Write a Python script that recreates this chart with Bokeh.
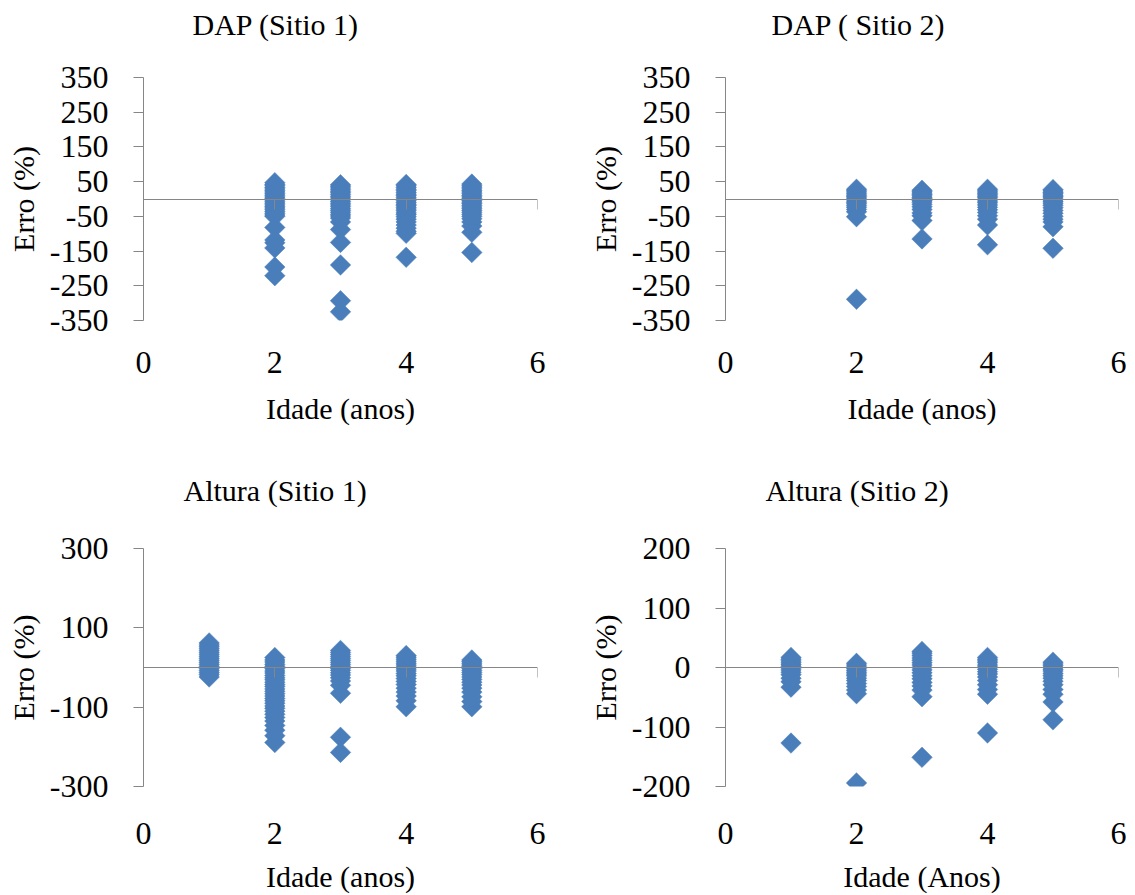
import numpy as np
from bokeh.plotting import figure
from bokeh.models import FixedTicker, LinearAxis, Range1d, ColumnDataSource
from bokeh.layouts import column, row
from bokeh.embed import file_html
from bokeh.resources import INLINE

# ---------------- data ----------------
x_ticks = [0, 2, 4, 6]

# DAP (Sitio 1): Erro (%) by Idade (anos)
dap_s1_age2 = [47, 42, 38, 33, 29, 24, 20, 15, 11, 6, 2, -3, -8, -12, -17, -22, -26,
               -31, -36, -41, -46, -50, -82, -118, -126, -141, -196, -221]
dap_s1_age3 = [41, 37, 32, 27, 22, 18, 13, 8, 3, -2, -7, -12, -17, -22, -28, -33, -38,
               -44, -49, -55, -66, -88, -125, -190, -293, -325]
dap_s1_age4 = [42, 38, 33, 28, 24, 19, 14, 10, 5, 0, -5, -10, -15, -19, -24, -29, -34,
               -40, -45, -51, -58, -66, -75, -84, -93, -99, -168]
dap_s1_age5 = [43, 38, 34, 29, 24, 20, 15, 10, 6, 1, -4, -9, -13, -18, -23, -28, -33,
               -38, -44, -50, -57, -66, -78, -96, -154]

# DAP (Sitio 2)
dap_s2_age2 = [28, 24, 20, 15, 11, 7, 3, -1, -6, -10, -14, -19, -24, -30, -37, -51, -289]
dap_s2_age3 = [25, 21, 17, 13, 9, 5, 1, -4, -9, -15, -22, -30, -40, -48, -62, -115]
dap_s2_age4 = [28, 24, 20, 16, 12, 8, 4, -1, -6, -11, -17, -24, -31, -39, -48, -58, -75, -132]
dap_s2_age5 = [27, 23, 19, 15, 11, 7, 3, -2, -7, -12, -18, -25, -33, -41, -50, -58, -66, -80, -142]

# Altura (Sitio 1)
alt_s1_age1 = [62, 57, 52, 47, 42, 37, 32, 27, 22, 17, 12, 7, 2, -3, -8, -13, -18, -24]
alt_s1_age2 = [25, 19, 14, 8, 3, -3, -9, -14, -20, -26, -31, -37, -43, -48, -54, -60, -66,
               -72, -78, -84, -90, -97, -103, -110, -118, -126, -135, -146, -158, -172, -189]
alt_s1_age3 = [43, 38, 33, 28, 23, 18, 13, 8, 3, -2, -7, -13, -19, -26, -34, -45, -65, -176, -214]
alt_s1_age4 = [30, 26, 21, 16, 11, 6, 1, -4, -9, -15, -21, -28, -35, -43, -52, -62, -72, -84, -99]
alt_s1_age5 = [19, 15, 11, 6, 2, -3, -8, -13, -18, -24, -30, -37, -44, -52, -62, -74, -86, -99]

# Altura (Sitio 2)
alt_s2_age1 = [17, 14, 11, 8, 5, 2, -1, -4, -8, -12, -18, -24, -33, -127]
alt_s2_age2 = [7, 4, 1, -2, -5, -8, -11, -14, -18, -22, -27, -32, -38, -44, -194]
alt_s2_age3 = [27, 24, 20, 16, 12, 8, 4, 0, -4, -9, -14, -19, -25, -31, -38, -49, -151]
alt_s2_age4 = [17, 14, 11, 8, 4, 1, -3, -7, -11, -16, -22, -29, -37, -45, -110]
alt_s2_age5 = [9, 6, 3, 0, -3, -6, -10, -14, -18, -23, -29, -37, -45, -58, -88]

dap_y_ticks = [-350, -250, -150, -50, 50, 150, 250, 350]
alt_s1_y_ticks = [-300, -100, 100, 300]
alt_s2_y_ticks = [-200, -100, 0, 100, 200]

# ---------------- style ----------------
FONT = "Liberation Serif"
BLUE = "#4a7ebb"
GRAY = "#868686"


def make_panel(title, xlabel, groups, yticks, ylim, width, height,
               left, right, top, bottom, title_offset, title_standoff,
               tick_standoff, xlabel_standoff):
    xs, ys = [], []
    for age, vals in groups:
        xs += [age] * len(vals)
        ys += vals
    src = ColumnDataSource(dict(idade=xs, erro=ys))

    p = figure(width=width, height=height, title=title + "\n",
               x_range=Range1d(0, 6), y_range=Range1d(ylim[0], ylim[1]),
               output_backend="svg", toolbar_location=None, tools="",
               min_border_left=left, min_border_right=right,
               min_border_top=top, min_border_bottom=bottom,
               background_fill_color="white", border_fill_color="white")
    p.outline_line_color = None
    p.grid.visible = False

    p.title.text_font = FONT
    p.title.text_font_size = "30px"
    p.title.text_font_style = "normal"
    p.title.text_color = "black"
    p.title.align = "left"
    p.title.offset = title_offset
    p.title.standoff = title_standoff

    # bottom axis: only tick labels and axis title
    xa = p.xaxis[0]
    xa.ticker = FixedTicker(ticks=x_ticks)
    xa.axis_line_color = None
    xa.major_tick_line_color = None
    xa.minor_tick_line_color = None
    xa.major_tick_in = 0
    xa.major_tick_out = 0
    xa.major_label_standoff = tick_standoff
    xa.major_label_text_font = FONT
    xa.major_label_text_font_size = "32px"
    xa.major_label_text_color = "black"
    xa.axis_label = xlabel
    xa.axis_label_text_font = FONT
    xa.axis_label_text_font_size = "30px"
    xa.axis_label_text_font_style = "normal"
    xa.axis_label_text_color = "black"
    xa.axis_label_standoff = xlabel_standoff

    # horizontal axis line crossing at zero
    za = LinearAxis(fixed_location=0, ticker=FixedTicker(ticks=x_ticks),
                    axis_line_color=GRAY, major_tick_line_color=GRAY,
                    minor_tick_line_color=None, major_tick_in=0, major_tick_out=10,
                    major_label_text_color=None, major_label_standoff=0)
    p.add_layout(za, "below")

    ya = p.yaxis[0]
    ya.ticker = FixedTicker(ticks=yticks)
    ya.major_label_overrides = {t: str(t) for t in yticks}
    ya.axis_line_color = GRAY
    ya.major_tick_line_color = GRAY
    ya.minor_tick_line_color = None
    ya.major_tick_in = 0
    ya.major_tick_out = 10
    ya.major_label_standoff = 25
    ya.major_label_text_font = FONT
    ya.major_label_text_font_size = "32px"
    ya.major_label_text_color = "black"
    ya.axis_label = "Erro (%)"
    ya.axis_label_text_font = FONT
    ya.axis_label_text_font_size = "30px"
    ya.axis_label_text_font_style = "normal"
    ya.axis_label_text_color = "black"
    ya.axis_label_standoff = 7

    p.scatter("idade", "erro", source=src, marker="square", size=14.5,
              angle=np.pi / 4, fill_color=BLUE, line_color=BLUE, line_width=0.5)
    return p


p1 = make_panel("DAP (Sitio 1)", "Idade (anos)",
                [(2, dap_s1_age2), (3, dap_s1_age3), (4, dap_s1_age4), (5, dap_s1_age5)],
                dap_y_ticks, (-350, 350), 580, 460, 143, 43, 77, 140, 49, 8, 31, 16)
p2 = make_panel("DAP ( Sitio 2)", "Idade (anos)",
                [(2, dap_s2_age2), (3, dap_s2_age3), (4, dap_s2_age4), (5, dap_s2_age5)],
                dap_y_ticks, (-350, 350), 555, 460, 145, 17, 77, 140, 46, 8, 31, 16)
p3 = make_panel("Altura (Sitio 1)", "Idade (anos)",
                [(1, alt_s1_age1), (2, alt_s1_age2), (3, alt_s1_age3), (4, alt_s1_age4), (5, alt_s1_age5)],
                alt_s1_y_ticks, (-300, 300), 580, 435, 143, 43, 88, 108, 40, 18, 36, 13)
p4 = make_panel("Altura (Sitio 2)", "Idade (Anos)",
                [(1, alt_s2_age1), (2, alt_s2_age2), (3, alt_s2_age3), (4, alt_s2_age4), (5, alt_s2_age5)],
                alt_s2_y_ticks, (-200, 200), 555, 435, 145, 17, 88, 108, 40, 18, 36, 13)

layout = column(row(p1, p2), row(p3, p4))
open("out.html", "w").write(file_html(layout, INLINE))
